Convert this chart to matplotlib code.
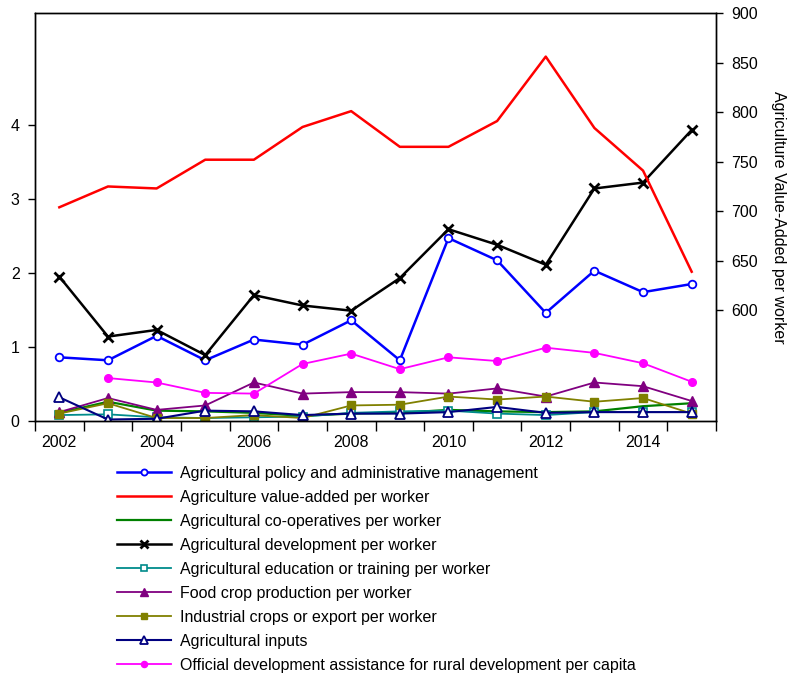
import numpy as np
import matplotlib
matplotlib.use('Agg')
import matplotlib.pyplot as plt

plt.rcParams['font.family'] = ['Liberation Sans', 'DejaVu Sans']

# Years on the x axis
years = list(range(2002, 2016))

# Series (left axis unless noted)
policy_admin = [0.86, 0.82, 1.15, 0.82, 1.10, 1.03, 1.36, 0.82, 2.47, 2.17, 1.46, 2.03, 1.74, 1.85]
value_added = [704, 725, 723, 752, 752, 785, 801, 765, 765, 791, 856, 784, 741, 639]  # right axis
cooperatives = [0.11, 0.26, 0.14, 0.13, 0.11, 0.07, 0.10, 0.11, 0.15, 0.13, 0.12, 0.13, 0.20, 0.24]
development = [1.95, 1.14, 1.23, 0.89, 1.70, 1.56, 1.49, 1.93, 2.59, 2.38, 2.11, 3.14, 3.22, 3.93]
education = [0.08, 0.09, 0.05, 0.04, 0.05, 0.06, 0.11, 0.13, 0.14, 0.10, 0.08, 0.12, 0.12, 0.12]
food_crop = [0.12, 0.31, 0.15, 0.21, 0.52, 0.37, 0.39, 0.39, 0.37, 0.44, 0.33, 0.52, 0.47, 0.27]
industrial = [0.10, 0.24, 0.04, 0.04, 0.08, 0.04, 0.21, 0.22, 0.33, 0.29, 0.33, 0.26, 0.31, 0.10]
inputs = [0.32, 0.02, 0.03, 0.14, 0.13, 0.08, 0.10, 0.10, 0.12, 0.19, 0.11, 0.12, 0.12, 0.12]
oda_years = years[1:]
oda_rural = [0.58, 0.52, 0.38, 0.37, 0.77, 0.91, 0.70, 0.86, 0.81, 0.99, 0.92, 0.78, 0.53]

labels = [
    'Agricultural policy and administrative management',
    'Agriculture value-added per worker',
    'Agricultural co-operatives per worker',
    'Agricultural development per worker',
    'Agricultural education or training per worker',
    'Food crop production per worker',
    'Industrial crops or export per worker',
    'Agricultural inputs',
    'Official development assistance for rural development per capita',
]

FS = 11.5

fig = plt.figure(figsize=(7.92, 6.76), dpi=100)
ax = fig.add_axes([35 / 792, 1 - 421 / 676, (716 - 35) / 792, (421 - 13) / 676])
ax2 = ax.twinx()

# right axis line first so the left axis lines sit on top
h_va, = ax2.plot(years, value_added, color='#ff0000', lw=1.8)

h_pol, = ax.plot(years, policy_admin, color='#0000ff', lw=1.8, marker='o', ms=5.5,
                 mfc='white', mec='#0000ff', mew=1.3)
h_coop, = ax.plot(years, cooperatives, color='#008000', lw=1.6)
h_dev, = ax.plot(years, development, color='black', lw=1.8, marker='x', ms=7, mew=2)
h_edu, = ax.plot(years, education, color='#008b8b', lw=1.3, marker='s', ms=5.5,
                 mfc='white', mec='#008b8b', mew=1.2)
h_food, = ax.plot(years, food_crop, color='#800080', lw=1.3, marker='^', ms=6.5)
h_ind, = ax.plot(years, industrial, color='#808000', lw=1.3, marker='s', ms=5.5)
h_inp, = ax.plot(years, inputs, color='#000080', lw=1.5, marker='^', ms=6.5,
                 mfc='white', mec='#000080', mew=1.3)
h_oda, = ax.plot(oda_years, oda_rural, color='#ff00ff', lw=1.3, marker='o', ms=5.5)

ax.set_xlim(2001.5, 2015.5)
ax.set_ylim(0, 5.51)
ax2.set_ylim(488.4, 900)

# tick marks between the years, labels on even years
ax.set_xticks(np.arange(2001.5, 2016, 1))
ax.set_xticklabels([])
ax.set_xticks([y for y in years if y % 2 == 0], minor=True)
ax.set_xticklabels([str(y) for y in years if y % 2 == 0], minor=True)
ax.tick_params(axis='x', which='major', direction='out', length=7, width=1)
ax.tick_params(axis='x', which='minor', length=0, pad=10, labelsize=FS)

ax.set_yticks([0, 1, 2, 3, 4])
ax.tick_params(axis='y', direction='out', length=5, width=1, labelsize=FS, pad=6)

ax2.set_yticks([600, 650, 700, 750, 800, 850, 900])
ax2.tick_params(axis='y', direction='out', length=5, width=1, labelsize=FS, pad=6)
ax2.set_ylabel('Agriculture Value-Added per worker', rotation=270, fontsize=FS, labelpad=20)

for sp in list(ax.spines.values()) + list(ax2.spines.values()):
    sp.set_linewidth(1)

handles = [h_pol, h_va, h_coop, h_dev, h_edu, h_food, h_ind, h_inp, h_oda]
leg = fig.legend(handles, labels, loc='upper left', bbox_to_anchor=(117 / 792, 1 - 466 / 676),
                 frameon=False, fontsize=FS, handlelength=3.4, handletextpad=0.55,
                 labelspacing=0.56, borderpad=0, borderaxespad=0, markerscale=0.8)

fig.savefig('out.png', dpi=100)
